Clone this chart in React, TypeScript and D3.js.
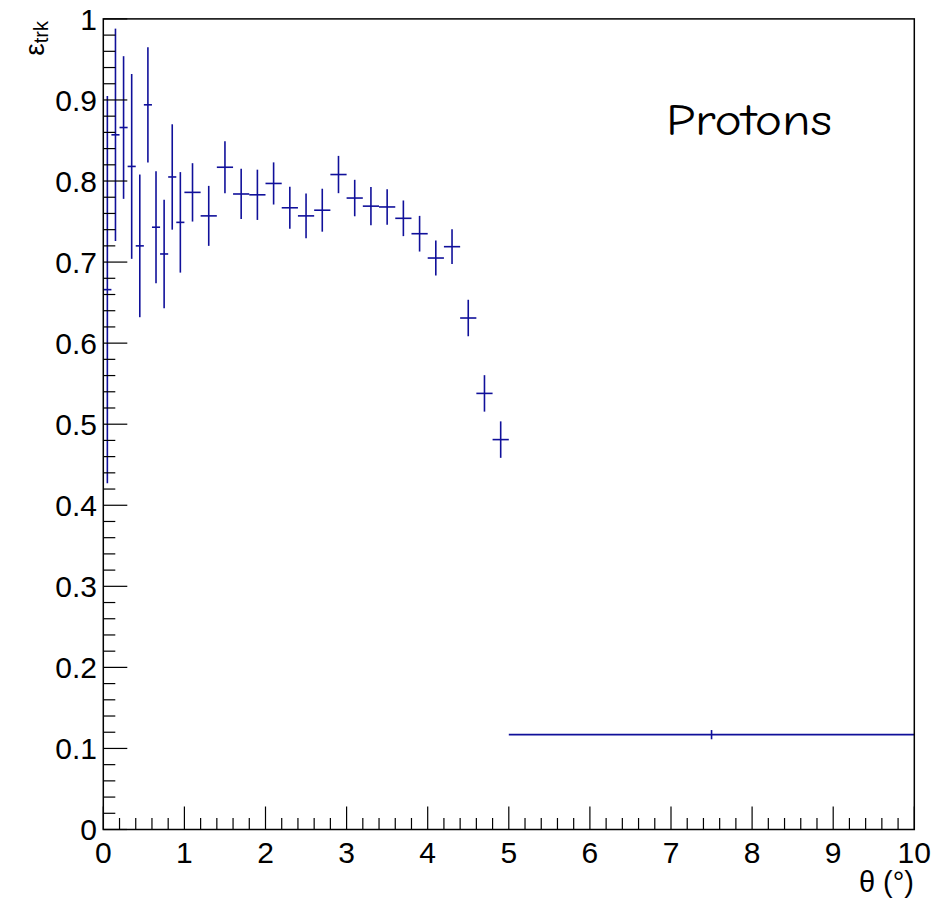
import React from "react";
import * as d3 from "d3";

// Bin edges along θ (degrees)
const binEdges: number[] = [
  0, 0.1, 0.2, 0.3, 0.4, 0.5, 0.6, 0.7, 0.8, 0.9, 1.0,
  1.2, 1.4, 1.6, 1.8, 2.0, 2.2, 2.4, 2.6, 2.8, 3.0,
  3.2, 3.4, 3.6, 3.8, 4.0, 4.2, 4.4, 4.6, 4.8, 5.0, 10,
];
// Efficiency per bin
const efficiency: number[] = [
  0.666, 0.857, 0.866, 0.818, 0.72, 0.894, 0.743, 0.71, 0.805, 0.749,
  0.786, 0.757, 0.817, 0.784, 0.783, 0.797, 0.767, 0.757, 0.764, 0.808,
  0.779, 0.769, 0.768, 0.754, 0.735, 0.705, 0.719, 0.631, 0.538, 0.481,
  0.117,
];
// Error per bin
const errors: number[] = [
  0.239, 0.131, 0.088, 0.114, 0.088, 0.071, 0.069, 0.067, 0.065, 0.062,
  0.036, 0.037, 0.032, 0.031, 0.031, 0.026, 0.026, 0.0275, 0.0265, 0.023,
  0.0225, 0.0235, 0.022, 0.022, 0.022, 0.0215, 0.0215, 0.0225, 0.0225, 0.0225,
  0.0057,
];
const xMajorTicks: number[] = [0, 1, 2, 3, 4, 5, 6, 7, 8, 9, 10];
const yMajorTicks: number[] = [0, 0.1, 0.2, 0.3, 0.4, 0.5, 0.6, 0.7, 0.8, 0.9, 1];
const yTickLabels: string[] = ["0", "0.1", "0.2", "0.3", "0.4", "0.5", "0.6", "0.7", "0.8", "0.9", "1"];
const xTickLabels: string[] = ["0", "1", "2", "3", "4", "5", "6", "7", "8", "9", "10"];
const labelText = "Protons";

const W = 940;
const H = 898;
const left = 103.3;
const right = 914.3;
const top = 18.9;
const bottom = 829.5;

export default function App() {
  const x = d3.scaleLinear().domain([0, 10]).range([left, right]);
  const y = d3.scaleLinear().domain([0, 1]).range([bottom, top]);

  const xMinor = d3.range(0, 50).map((i) => i * 0.2).filter((v) => Math.abs(v - Math.round(v)) > 1e-6);
  const yMinor = d3.range(0, 50).map((i) => i * 0.02).filter((v) => Math.abs(v * 10 - Math.round(v * 10)) > 1e-6);

  const bins = efficiency.map((v, i) => ({
    lo: binEdges[i],
    hi: binEdges[i + 1],
    c: (binEdges[i] + binEdges[i + 1]) / 2,
    v,
    e: errors[i],
  }));

  const font = "'Liberation Sans', Arial, Helvetica, sans-serif";
  const color = "#10109a";

  return (
    <svg width={W} height={H} style={{ position: "absolute", left: 0, top: 0, background: "#fff" }}>
      <rect x={0} y={0} width={W} height={H} fill="#fff" />
      {/* data */}
      <g stroke={color} strokeWidth={1.6} fill="none">
        {bins.map((b, i) => (
          <g key={i}>
            <line x1={x(b.lo)} x2={x(b.hi)} y1={y(b.v)} y2={y(b.v)} />
            <line x1={x(b.c)} x2={x(b.c)} y1={y(b.v - b.e)} y2={y(b.v + b.e)} />
          </g>
        ))}
      </g>
      {/* ticks */}
      <g stroke="#000" strokeWidth={1.2}>
        {xMajorTicks.map((t) => (
          <line key={"xM" + t} x1={x(t)} x2={x(t)} y1={bottom} y2={bottom - 23} />
        ))}
        {xMinor.map((t) => (
          <line key={"xm" + t} x1={x(t)} x2={x(t)} y1={bottom} y2={bottom - 11.5} />
        ))}
        {yMajorTicks.map((t) => (
          <line key={"yM" + t} x1={left} x2={left + 24} y1={y(t)} y2={y(t)} />
        ))}
        {yMinor.map((t) => (
          <line key={"ym" + t} x1={left} x2={left + 12} y1={y(t)} y2={y(t)} />
        ))}
      </g>
      {/* frame */}
      <rect x={left} y={top} width={right - left} height={bottom - top} fill="none" stroke="#000" strokeWidth={1.5} />
      {/* tick labels */}
      <g fontFamily={font} fontSize={30} fill="#000">
        {xMajorTicks.map((t, i) => (
          <text key={"xl" + t} x={x(t)} y={863} textAnchor="middle">
            {xTickLabels[i]}
          </text>
        ))}
        {yMajorTicks.map((t, i) => (
          <text key={"yl" + t} x={97} y={y(t) + 10.8} textAnchor="end">
            {yTickLabels[i]}
          </text>
        ))}
      </g>
      {/* axis titles */}
      <text x={914} y={892} textAnchor="end" fontFamily={font} fontSize={29} fill="#000">
        θ (°)
      </text>
      <text
        transform={`translate(44, 21) rotate(-90)`}
        textAnchor="end"
        fontFamily={font}
        fontSize={28}
        fill="#000"
      >
        ε<tspan fontSize={20} dy={4}>trk</tspan>
      </text>
      {/* label */}
      <text
        x={666}
        y={135}
        fontFamily="'Comic Sans MS', 'Comic Neue', 'Noto Sans', sans-serif"
        fontSize={44}
        textLength={166}
        lengthAdjust="spacingAndGlyphs"
        fill="#000"
      >
        {labelText}
      </text>
    </svg>
  );
}
